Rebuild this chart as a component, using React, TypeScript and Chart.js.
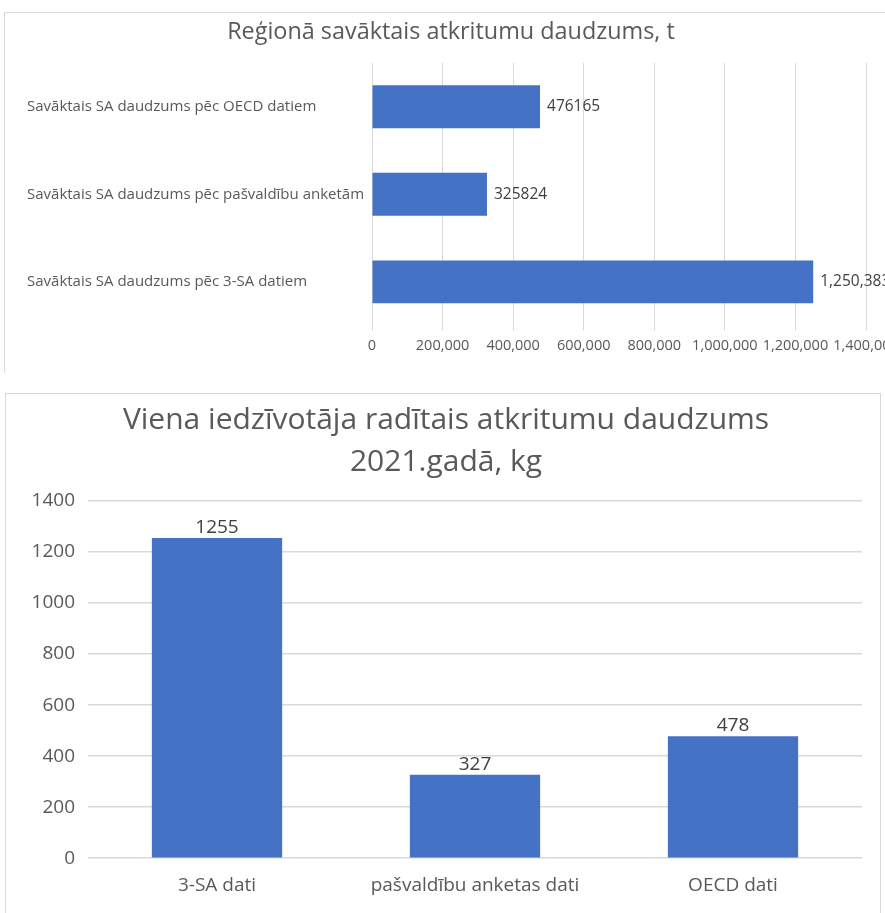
import React, { useEffect, useRef } from "react";
import { Chart, registerables } from "chart.js";

Chart.register(...registerables);

const FONT = "'Open Sans', Lato, sans-serif";

// ---- top chart data ----
const topTitle = ["Reģionā savāktais atkritumu daudzums, t"];
const topCategories = [
  "Savāktais SA daudzums pēc OECD datiem",
  "Savāktais SA daudzums pēc pašvaldību anketām",
  "Savāktais SA daudzums pēc 3-SA datiem",
];
const topValues = [476165, 325824, 1250383];
const topValueLabels = ["476165", "325824", "1,250,383"];
const topAxisMin = 0;
const topAxisMax = 1400000;
const topAxisStep = 200000;

// ---- bottom chart data ----
const bottomTitle = ["Viena iedzīvotāja radītais atkritumu daudzums", "2021.gadā, kg"];
const bottomCategories = ["3-SA dati", "pašvaldību anketas dati", "OECD dati"];
const bottomValues = [1255, 327, 478];
const bottomValueLabels = ["1255", "327", "478"];
const bottomAxisMin = 0;
const bottomAxisMax = 1400;
const bottomAxisStep = 200;

const BAR = "#4472C4";
const GRID = "#d9d9d9";
const AXIS_TEXT = "#595959";
const LABEL_TEXT = "#404040";

function valueLabelPlugin(id: string, texts: string[], horizontal: boolean, size: number) {
  return {
    id,
    afterDatasetsDraw(chart: any) {
      const ctx = chart.ctx;
      const meta = chart.getDatasetMeta(0);
      ctx.save();
      ctx.fillStyle = LABEL_TEXT;
      ctx.font = `${size}px ${FONT}`;
      meta.data.forEach((el: any, i: number) => {
        if (horizontal) {
          ctx.textAlign = "left";
          ctx.textBaseline = "middle";
          ctx.fillText(texts[i], el.x + 7, el.y);
        } else {
          ctx.textAlign = "center";
          ctx.textBaseline = "bottom";
          ctx.fillText(texts[i], el.x, el.y - 1);
        }
      });
      ctx.restore();
    },
  };
}

// Title drawn as canvas text, centred where the original title sits.
function titlePlugin(id: string, lines: string[], size: number, cx: number, firstY: number, lineGap: number) {
  return {
    id,
    afterDraw(chart: any) {
      const ctx = chart.ctx;
      ctx.save();
      ctx.fillStyle = AXIS_TEXT;
      ctx.font = `${size}px ${FONT}`;
      ctx.textAlign = "center";
      ctx.textBaseline = "middle";
      lines.forEach((t, i) => ctx.fillText(t, cx, firstY + i * lineGap));
      ctx.restore();
    },
  };
}

function TopChart() {
  const ref = useRef<HTMLCanvasElement>(null);
  useEffect(() => {
    const chart = new Chart(ref.current as HTMLCanvasElement, {
      type: "bar",
      data: {
        labels: topCategories,
        datasets: [
          {
            data: topValues,
            backgroundColor: BAR,
            borderWidth: 0,
            barPercentage: 1,
            categoryPercentage: 0.49,
          },
        ],
      },
      options: {
        indexAxis: "y",
        responsive: false,
        maintainAspectRatio: false,
        animation: false,
        layout: { padding: { left: 27, right: 19, top: 63, bottom: 10 } },
        plugins: {
          legend: { display: false },
          tooltip: { enabled: false },
          title: { display: false },
        },
        scales: {
          x: {
            min: topAxisMin,
            max: topAxisMax,
            ticks: {
              stepSize: topAxisStep,
              autoSkip: false,
              maxRotation: 0,
              minRotation: 0,
              color: AXIS_TEXT,
              padding: 7,
              font: { family: FONT, size: 14.5 },
              callback: (v: any) => Number(v).toLocaleString("en-US"),
            },
            grid: { color: GRID, drawTicks: true, tickLength: 5 },
            border: { display: false },
            afterFit: (s: any) => {
              s.paddingRight = 0;
              s.paddingLeft = 0;
            },
          },
          y: {
            ticks: {
              crossAlign: "far",
              color: AXIS_TEXT,
              font: { family: FONT, size: 15 },
            },
            grid: { display: false },
            border: { display: false },
            afterFit: (s: any) => {
              s.width = 345;
            },
          },
        },
      } as any,
      plugins: [
        valueLabelPlugin("topLabels", topValueLabels, true, 15.5),
        titlePlugin("topTitle", topTitle, 23.4, 451, 32, 0),
      ],
    });
    return () => chart.destroy();
  }, []);
  return (
    <canvas
      ref={ref}
      width={885}
      height={372}
      style={{ position: "absolute", left: 0, top: 0, width: 885, height: 372 }}
    />
  );
}

function BottomChart() {
  const ref = useRef<HTMLCanvasElement>(null);
  useEffect(() => {
    const chart = new Chart(ref.current as HTMLCanvasElement, {
      type: "bar",
      data: {
        labels: bottomCategories,
        datasets: [
          {
            data: bottomValues,
            backgroundColor: BAR,
            borderWidth: 0,
            barPercentage: 1,
            categoryPercentage: 0.505,
          },
        ],
      },
      options: {
        responsive: false,
        maintainAspectRatio: false,
        animation: false,
        layout: { padding: { left: 0, right: 23, top: 121, bottom: 0 } },
        plugins: {
          legend: { display: false },
          tooltip: { enabled: false },
          title: { display: false },
        },
        scales: {
          x: {
            ticks: {
              color: AXIS_TEXT,
              padding: 16,
              maxRotation: 0,
              font: { family: FONT, size: 19 },
            },
            grid: { display: false, drawTicks: false },
            border: { display: false },
          },
          y: {
            min: bottomAxisMin,
            max: bottomAxisMax,
            ticks: {
              stepSize: bottomAxisStep,
              color: AXIS_TEXT,
              padding: 13,
              font: { family: FONT, size: 19 },
              callback: (v: any) => String(v),
            },
            grid: { color: GRID, drawTicks: false, lineWidth: 1.5 },
            border: { display: false },
            afterFit: (s: any) => {
              s.width = 88;
            },
          },
        },
      } as any,
      plugins: [
        valueLabelPlugin("bottomLabels", bottomValueLabels, false, 19),
        titlePlugin("bottomTitle", bottomTitle, 30, 446, 40, 42),
      ],
    });
    return () => chart.destroy();
  }, []);
  return (
    <canvas
      ref={ref}
      width={885}
      height={533}
      style={{ position: "absolute", left: 0, top: 380, width: 885, height: 533 }}
    />
  );
}

export default function App() {
  useEffect(() => {
    document.body.style.margin = "0";
  }, []);
  return (
    <div
      style={{
        position: "fixed",
        left: 0,
        top: 0,
        width: 885,
        height: 913,
        overflow: "hidden",
        background: "#ffffff",
      }}
    >
      <div
        style={{
          position: "absolute",
          left: 4,
          top: 12,
          width: 900,
          height: 360,
          borderTop: `1px solid ${GRID}`,
          borderLeft: `1px solid ${GRID}`,
        }}
      />
      <div
        style={{
          position: "absolute",
          left: 5,
          top: 393,
          width: 874,
          height: 540,
          border: `1px solid ${GRID}`,
        }}
      />
      <TopChart />
      <BottomChart />
    </div>
  );
}
